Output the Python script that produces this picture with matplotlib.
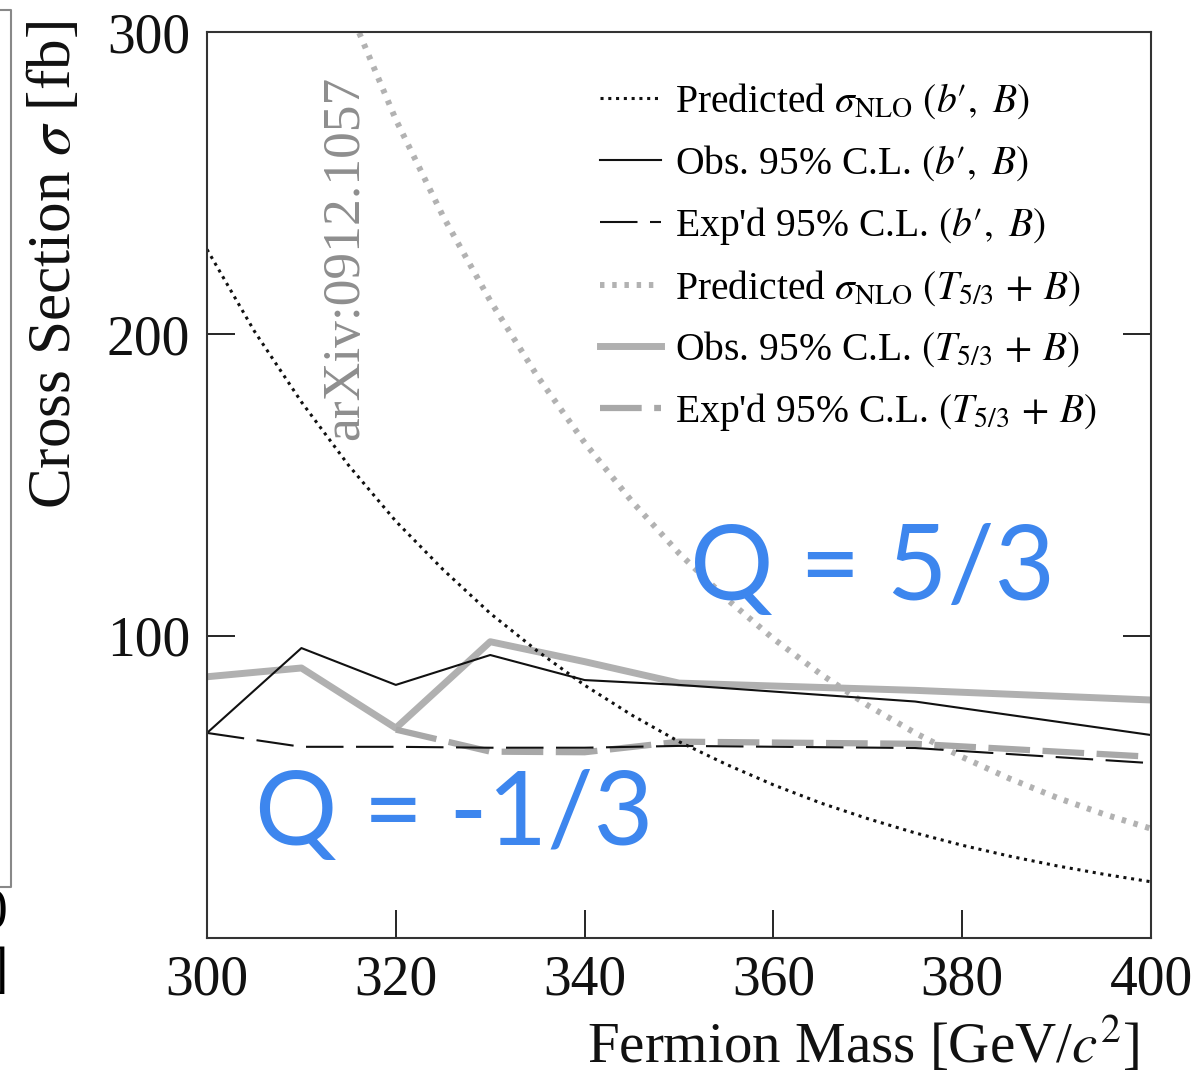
import numpy as np
import matplotlib
matplotlib.use("Agg")
import matplotlib.pyplot as plt
from matplotlib.lines import Line2D

plt.rcParams["font.family"] = ["Liberation Serif", "DejaVu Serif"]
plt.rcParams["mathtext.fontset"] = "stix"
plt.rcParams["lines.scale_dashes"] = False

# predicted NLO cross sections [fb] vs fermion mass [GeV/c^2]
mass_pred = [300, 305, 310, 315, 320, 325, 330, 335, 340, 345, 350,
             355, 360, 365, 370, 375, 380, 385, 390, 395, 400]
pred_bprime = [228, 201, 177.5, 156.5, 138, 122, 107.5, 95, 83.7, 73.8, 65,
               57.5, 50.7, 44.7, 39.5, 34.8, 30.7, 27.1, 23.9, 21.1, 18.6]
pred_t53 = [449, 396, 349, 308, 271, 239, 211, 186, 164, 144.6, 127.4,
            112.4, 99.1, 87.4, 77, 67.9, 59.9, 52.8, 46.5, 41, 36.2]

# 95% C.L. limits
mass_lim = [300, 310, 320, 330, 340, 350, 375, 400]
obs_bprime = [67.9, 96, 83.8, 93.7, 85.4, 83.8, 78.3, 67.2]
exp_bprime = [67.9, 63.3, 63.3, 63.0, 63.0, 63.6, 62.9, 57.9]
obs_t53 = [86.5, 89.4, 69.5, 98.1, 91.5, 84.4, 82.0, 78.8]
mass_exp_t53 = [320, 330, 340, 350, 375, 400]
exp_t53 = [69.0, 61.7, 61.5, 65.0, 64.3, 60.0]

labels = [r"Predicted $\sigma_{\rm NLO}$ $(b\prime,\ B)$",
          r"Obs. 95% C.L. $(b\prime,\ B)$",
          r"Exp'd 95% C.L. $(b\prime,\ B)$",
          r"Predicted $\sigma_{\rm NLO}$ $(T_{5/3}\,+\,B)$",
          r"Obs. 95% C.L. $(T_{5/3}\,+\,B)$",
          r"Exp'd 95% C.L. $(T_{5/3}\,+\,B)$"]

fig = plt.figure(figsize=(11.96, 10.78), dpi=100)
ax = fig.add_axes([0.1731, 0.1299, 0.7893, 0.8404])

g_pred, = ax.plot(mass_pred, pred_t53, color="#b2b2b2", lw=4.3, dashes=(3.2, 5.6),
                  dash_capstyle="butt")
g_obs, = ax.plot(mass_lim, obs_t53, color="#b0b0b0", lw=5)
g_exp, = ax.plot(mass_exp_t53, exp_t53, color="#a8a8a8", lw=4.5, dashes=(30, 9),
                 dash_capstyle="butt")
k_pred, = ax.plot(mass_pred, pred_bprime, color="#111111", lw=2.2, dashes=(2.2, 3.4),
                  dash_capstyle="butt")
k_obs, = ax.plot(mass_lim, obs_bprime, color="#111111", lw=1.5)
k_exp, = ax.plot(mass_lim, exp_bprime, color="#111111", lw=1.5, dashes=(27, 9))

ax.set_xlim(300, 400)
ax.set_ylim(0, 300)
ax.set_xticks([300, 320, 340, 360, 380, 400])
ax.set_yticks([100, 200, 300])
ax.tick_params(direction="in", length=20, width=1.2, labelsize=40, pad=12,
               right=True, top=False)
for lab in ax.get_xticklabels() + ax.get_yticklabels():
    lab.set_color("#111111")
for s in ax.spines.values():
    s.set_linewidth(1.5)
    s.set_color("#333333")

leg = ax.legend([k_pred, k_obs, k_exp, g_pred, g_obs, g_exp], labels,
                loc="upper left", bbox_to_anchor=(0.416, 0.945), frameon=False,
                fontsize=28.5, handlelength=1.55, handletextpad=0.36,
                labelspacing=0.55, borderpad=0, borderaxespad=0)

ax.text(314.6, 165, "arXiv:0912.1057", rotation=90, ha="center", va="bottom",
        fontsize=38.5, color="#8e8e8e")

blue = "#3d86ee"
ax.text(351.2, 112, "Q = 5/3", fontsize=75, color=blue, family="Lato",
        ha="left", va="baseline")
ax.text(305.1, 30.8, "Q = -1/3", fontsize=74, color=blue, family="Lato",
        ha="left", va="baseline")

fig.text(0.046, 0.981, r"Cross Section $\sigma$ [fb]", rotation=90, ha="center",
         va="top", fontsize=44, color="#111111")
fig.text(0.953, 0.031, r"Fermion Mass [GeV/$c^2$]", ha="right", va="center",
         fontsize=41, color="#111111")

# edge of the neighbouring panel
fig.add_artist(Line2D([0, 11 / 1196, 11 / 1196, 0],
                      [1 - 10 / 1078, 1 - 10 / 1078, 1 - 887 / 1078, 1 - 887 / 1078],
                      color="#888888", lw=1.5))
fig.text(8 / 1196, 1 - 914 / 1078, "0", ha="right", va="center", fontsize=40)
fig.text(8 / 1196, 1 - 972 / 1078, "]", ha="right", va="center", fontsize=40)

fig.savefig("out.png", dpi=100)
